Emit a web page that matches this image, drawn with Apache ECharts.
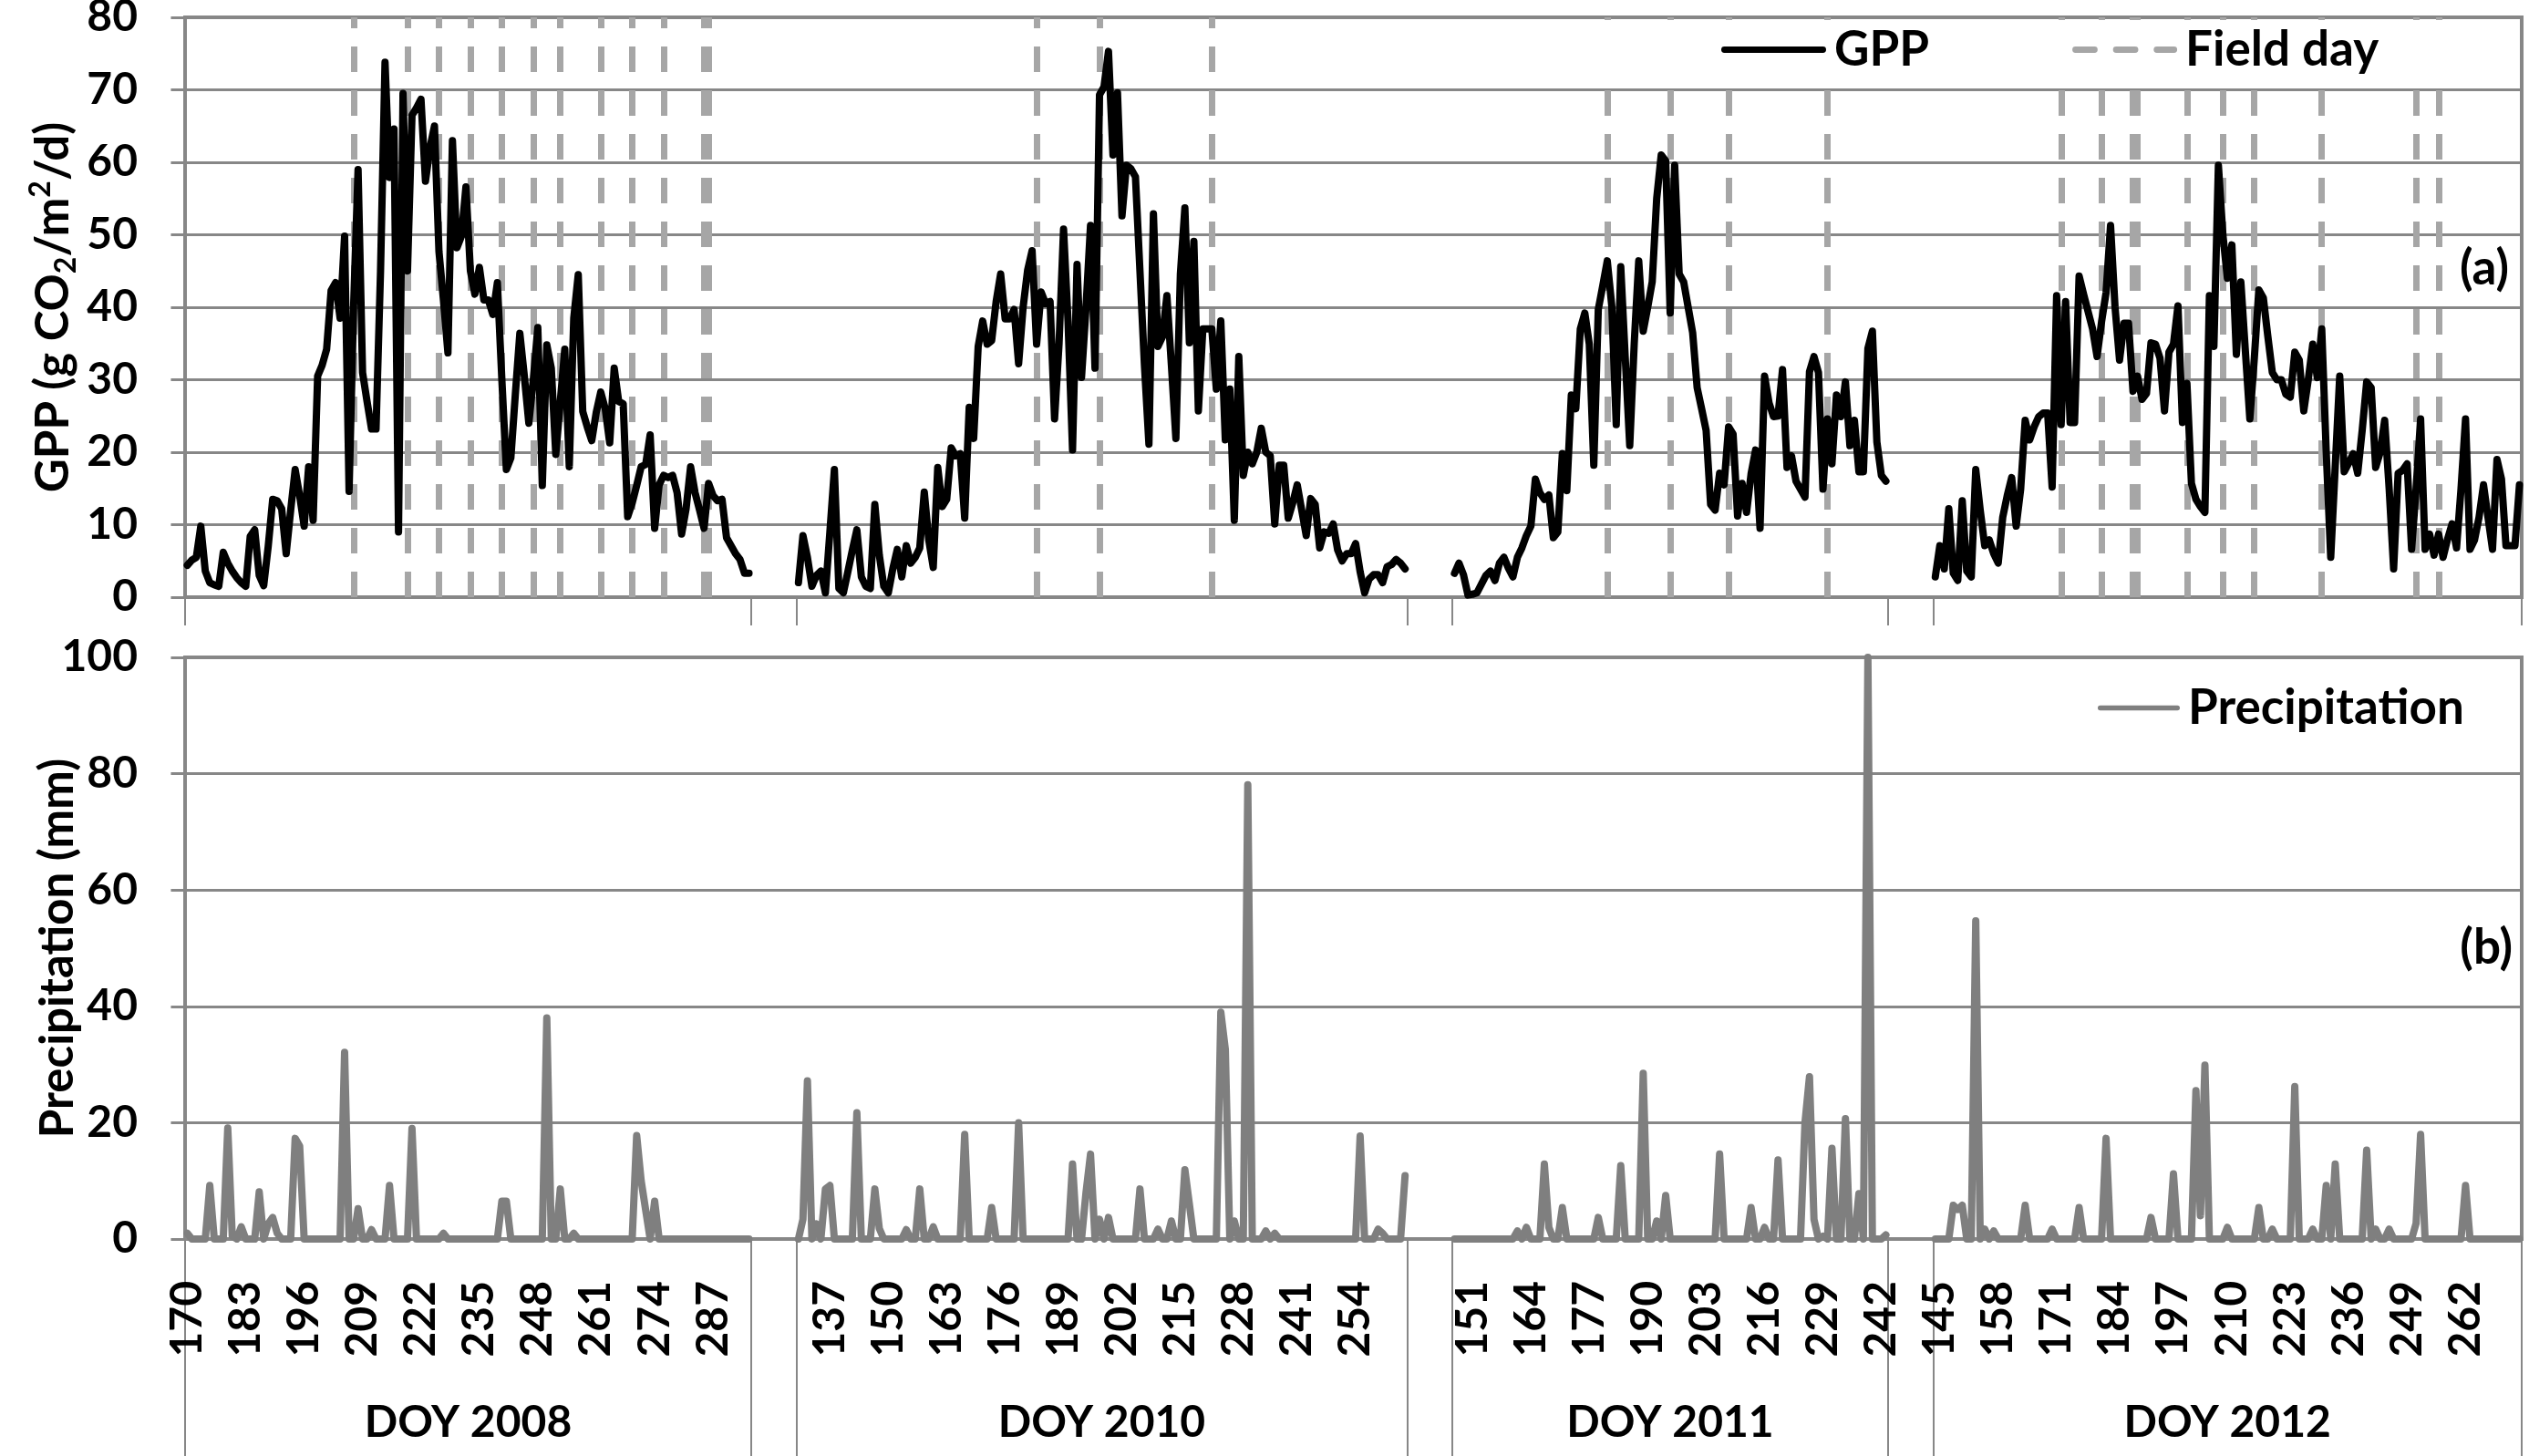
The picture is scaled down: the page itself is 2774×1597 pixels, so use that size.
<!DOCTYPE html>
<html>
<head>
<meta charset="utf-8">
<script src="https://cdn.jsdelivr.net/npm/echarts@6/dist/echarts.min.js"></script>
<style>
html, body { margin: 0; padding: 0; background: #fff; }
#chart { width: 2774px; height: 1597px; }
</style>
</head>
<body>
<div id="chart"></div>
<script>
const years = ['2008', '2010', '2011', '2012'];
const firstDoy = [170, 130, 147, 144];
const gapDays = 10;

// GPP (g CO2/m2/d), one value per day
const gpp2008 = [
  4.4, 5.1, 5.5, 9.8, 3.6, 2.0, 1.7, 1.5, 6.2, 4.7,
  3.6, 2.7, 2.0, 1.5, 8.4, 9.3, 3.0, 1.6, 7.0, 13.5,
  13.3, 12.2, 6.0, 12.0, 17.6, 14.0, 9.8, 18.0, 10.6, 30.5,
  32.0, 34.2, 42.3, 43.4, 38.5, 49.8, 14.6, 40.0, 59.0, 31.0,
  27.0, 23.2, 23.2, 45.0, 73.8, 57.9, 64.6, 9.0, 69.5, 45.0,
  66.5, 67.5, 68.7, 57.4, 62.0, 65.0, 47.7, 41.0, 33.7, 63.0,
  48.2, 49.8, 56.6, 45.0, 41.8, 45.5, 41.0, 41.0, 39.0, 43.4,
  30.0, 17.6, 19.2, 28.0, 36.4, 30.5, 24.0, 30.0, 37.2, 15.4,
  34.8, 31.6, 19.7, 27.0, 34.2, 18.0, 38.5, 44.5, 25.6, 23.5,
  21.6, 25.5, 28.3, 26.0, 21.3, 31.6, 27.0, 26.7, 11.1, 13.0,
  15.4, 18.0, 18.3, 22.4, 9.5, 15.5, 16.8, 16.5, 16.8, 14.4,
  8.7, 12.2, 18.0, 14.4, 12.0, 9.5, 15.7, 14.0, 13.3, 13.5,
  8.2, 7.1, 6.0, 5.2, 3.3, 3.3
];
const gpp2010 = [
  2.0, 8.5, 5.5, 1.5, 3.0, 3.6, 0.6, 9.0, 17.6, 1.2,
  0.6, 3.5, 6.5, 9.3, 2.8, 1.5, 1.2, 12.8, 5.8, 1.5,
  0.6, 3.9, 6.6, 2.8, 7.1, 4.7, 5.5, 6.8, 14.5, 7.9,
  4.1, 17.9, 12.5, 13.5, 20.6, 19.5, 19.8, 10.9, 26.2, 21.9,
  34.6, 38.1, 34.9, 35.4, 40.8, 44.6, 38.4, 38.4, 39.7, 32.2,
  40.0, 45.1, 47.8, 34.9, 42.1, 40.5, 40.8, 24.6, 35.0, 50.8,
  38.0, 20.3, 45.9, 30.3, 40.0, 51.3, 31.6, 69.3, 70.4, 75.3,
  61.0, 69.6, 52.6, 59.6, 59.1, 58.0, 45.0, 32.0, 21.1, 52.9,
  34.6, 35.9, 41.6, 32.0, 21.9, 44.6, 53.7, 35.1, 49.1, 25.7,
  37.0, 37.0, 37.0, 28.7, 38.1, 21.7, 28.7, 10.6, 33.2, 16.8,
  20.0, 18.4, 20.0, 23.3, 20.0, 19.5, 10.1, 18.2, 18.2, 10.9,
  13.0, 15.5, 12.0, 8.5, 13.6, 12.8, 6.8, 9.0, 8.8, 10.1,
  6.5, 5.0, 6.0, 6.0, 7.4, 3.5, 0.6, 2.5, 3.1, 3.1,
  2.0, 4.2, 4.5, 5.2, 4.7, 3.9
];
const gpp2011 = [
  3.3, 4.7, 3.1, 0.3, 0.4, 0.6, 1.8, 3.0, 3.6, 2.3,
  4.7, 5.5, 4.0, 2.8, 5.5, 6.8, 8.5, 9.8, 16.3, 14.4,
  13.5, 14.1, 8.2, 9.0, 19.8, 14.7, 27.9, 26.0, 37.0, 39.2,
  34.9, 18.2, 39.7, 43.0, 46.4, 40.2, 23.8, 45.6, 33.0, 20.9,
  35.0, 46.4, 36.7, 40.0, 43.5, 55.0, 61.0, 60.2, 39.2, 59.6,
  44.6, 43.5, 40.0, 36.5, 28.9, 26.0, 23.0, 12.8, 12.0, 17.1,
  15.5, 23.5, 22.5, 11.2, 15.7, 11.7, 17.0, 20.3, 9.5, 30.5,
  26.8, 24.9, 25.0, 31.4, 17.9, 19.5, 16.0, 14.9, 13.8, 31.1,
  33.2, 31.0, 14.9, 24.6, 18.4, 27.9, 24.9, 29.7, 20.9, 24.4,
  17.3, 17.3, 34.3, 36.7, 21.4, 16.8, 16.0
];
const gpp2012 = [
  2.8, 7.1, 3.9, 12.2, 3.3, 2.3, 13.3, 3.6, 2.8, 17.6,
  12.0, 7.1, 7.9, 6.0, 4.7, 11.0, 14.0, 16.5, 9.8, 14.9,
  24.4, 21.7, 23.5, 24.9, 25.4, 25.4, 15.2, 41.6, 23.8, 40.8,
  24.1, 24.1, 44.3, 41.8, 39.4, 37.0, 33.2, 38.0, 42.0, 51.3,
  40.0, 32.7, 37.8, 37.8, 28.4, 30.5, 27.3, 28.1, 35.1, 34.9,
  33.0, 25.7, 33.8, 34.9, 40.2, 24.1, 29.5, 15.7, 13.5, 12.5,
  11.7, 41.6, 34.6, 59.6, 50.0, 44.0, 48.6, 33.5, 43.5, 34.0,
  24.6, 33.0, 42.4, 41.3, 36.0, 31.0, 30.0, 30.0, 28.0, 27.6,
  33.8, 32.7, 25.7, 30.0, 34.9, 30.3, 37.0, 20.0, 5.5, 18.0,
  30.5, 17.3, 18.5, 19.8, 17.1, 23.0, 29.7, 28.9, 17.9, 20.0,
  24.4, 15.0, 3.9, 17.1, 17.5, 18.4, 6.6, 15.0, 24.6, 6.6,
  8.7, 5.8, 8.7, 5.5, 8.0, 10.1, 6.8, 15.0, 24.6, 6.6,
  7.9, 11.0, 15.5, 11.0, 6.6, 19.0, 16.3, 7.1, 7.1, 7.1,
  15.5
];

// Precipitation (mm), one value per day
const rain2008 = [
  1, 0, 0, 0, 0, 9.2, 0, 0, 0, 19.1,
  0.5, 0, 2.1, 0, 0, 0, 8.1, 0, 2.6, 3.7,
  1, 0, 0, 0, 17.3, 16, 0, 0, 0, 0,
  0, 0, 0, 0, 0, 32.1, 0, 0, 5.2, 0,
  0, 1.6, 0, 0, 0, 9.2, 0, 0, 0, 0,
  19, 0, 0, 0, 0, 0, 0, 1, 0, 0,
  0, 0, 0, 0, 0, 0, 0, 0, 0, 0,
  6.5, 6.5, 0, 0, 0, 0, 0, 0, 0, 0,
  38, 0, 0, 8.6, 0, 0, 1, 0, 0, 0,
  0, 0, 0, 0, 0, 0, 0, 0, 0, 0,
  17.8, 10, 5, 0, 6.5, 0, 0, 0, 0, 0,
  0, 0, 0, 0, 0, 0, 0, 0, 0, 0,
  0, 0, 0, 0, 0, 0
];
const rain2010 = [
  0, 3.4, 27.2, 0, 2.6, 0, 8.6, 9.2, 0, 0,
  0, 0, 0, 21.7, 0, 0, 0, 8.6, 1.8, 0,
  0, 0, 0, 0, 1.6, 0, 0, 8.6, 0, 0,
  2.1, 0, 0, 0, 0, 0, 0, 18, 0, 0,
  0, 0, 0, 5.4, 0, 0, 0, 0, 0, 20,
  0, 0, 0, 0, 0, 0, 0, 0, 0, 0,
  0, 12.9, 0, 0, 8, 14.6, 0, 3.4, 0, 3.7,
  0, 0, 0, 0, 0, 0, 8.6, 0, 0, 0,
  1.7, 0, 0, 3.1, 0, 0, 11.9, 6, 0, 0,
  0, 0, 0, 0, 39, 32.6, 0, 3.1, 0, 0,
  78.1, 0, 0, 0, 1.4, 0, 1, 0, 0, 0,
  0, 0, 0, 0, 0, 0, 0, 0, 0, 0,
  0, 0, 0, 0, 0, 17.7, 0, 0, 0, 1.7,
  1, 0, 0, 0, 0, 10.9
];
const rain2011 = [
  0, 0, 0, 0, 0, 0, 0, 0, 0, 0,
  0, 0, 0, 0, 1.4, 0, 2, 0, 0, 0,
  12.9, 2, 0, 0, 5.4, 0, 0, 0, 0, 0,
  0, 0, 3.7, 0, 0, 0, 0, 12.6, 0, 0,
  0, 0, 28.5, 0, 0, 3.1, 0, 7.5, 0, 0,
  0, 0, 0, 0, 0, 0, 0, 0, 0, 14.6,
  0, 0, 0, 0, 0, 0, 5.4, 0, 0, 2,
  0, 0, 13.6, 0, 0, 0, 0, 0, 20, 27.9,
  3.4, 0, 0.5, 0, 15.6, 0, 0, 20.7, 0, 0,
  7.8, 0, 100, 0, 0, 0, 0.7
];
const rain2012 = [
  0, 0, 0, 0, 5.8, 5.1, 5.8, 0, 0, 54.7,
  0, 1.7, 0, 1.4, 0, 0, 0, 0, 0, 0,
  5.8, 0, 0, 0, 0, 0, 1.7, 0, 0, 0,
  0, 0, 5.4, 0, 0, 0, 0, 0, 17.3, 0,
  0, 0, 0, 0, 0, 0, 0, 0, 3.7, 0,
  0, 0, 0, 11.2, 0, 0, 0, 0, 25.5, 4,
  29.9, 0, 0, 0, 0, 2, 0, 0, 0, 0,
  0, 0, 5.4, 0, 0, 1.7, 0, 0, 0, 0,
  26.2, 0, 0, 0, 1.7, 0, 0, 9.2, 0, 12.9,
  0, 0, 0, 0, 0, 0, 15.3, 0, 1.7, 0,
  0, 1.7, 0, 0, 0, 0, 0, 2.7, 18, 0,
  0, 0, 0, 0, 0, 0, 0, 0, 9.2, 0,
  0, 0, 0, 0, 0, 0, 0, 0, 0, 0,
  0
];

// field days (DOY)
const field2008 = [207, 219, 226, 233, 240, 247, 253, 262, 269, 276, 285, 286];
const field2010 = [183, 197, 222];
const field2011 = [181, 195, 208, 230];
const field2012 = [172, 181, 188, 189, 200, 208, 215, 230, 251, 256];

const gppByYear = [gpp2008, gpp2010, gpp2011, gpp2012];
const rainByYear = [rain2008, rain2010, rain2011, rain2012];
const fieldByYear = [field2008, field2010, field2011, field2012];

// build one long category axis, with empty days between the seasons
const categories = [];
const gppData = [];
const rainData = [];
const groupEdges = [-0.5];
const groupCenters = [];
years.forEach((year, y) => {
  if (y > 0) {
    for (let j = 0; j < gapDays; j++) {
      categories.push('gap' + y + '-' + j);
      gppData.push(null);
      rainData.push(null);
    }
    groupEdges.push(categories.length - 0.5);
  }
  const start = categories.length;
  gppByYear[y].forEach((v, k) => {
    categories.push(year + '-' + (firstDoy[y] + k));
    gppData.push(v);
    rainData.push(rainByYear[y][k]);
  });
  groupCenters.push((start + categories.length - 1) / 2);
  groupEdges.push(categories.length - 0.5);
});
const fieldLines = [];
fieldByYear.forEach((days, y) => {
  days.forEach(d => fieldLines.push({ xAxis: years[y] + '-' + d }));
});

const font = 'Lato';
const grey = '#878787';
const dashGrey = '#a6a6a6';
const txt = { fontFamily: font, fontWeight: 'bold', fontSize: 48, color: '#000' };
const legendTxt = Object.assign({}, txt, { fontSize: 53, padding: [0, 0, 0, 4] });
const nameTxt = Object.assign({}, txt, { fontSize: 51 });
// legend icons: a thick bar, and three dashes
const barIcon = 'path://M3,0H112A3.5,3.5,0,0,1,112,7H3A3.5,3.5,0,0,1,3,0Z';
const dashIcon = 'path://M3,0H24A3.5,3.5,0,0,1,24,7H3A3.5,3.5,0,0,1,3,0Z' +
  'M48,0H69A3.5,3.5,0,0,1,69,7H48A3.5,3.5,0,0,1,48,0Z' +
  'M93,0H112A3.5,3.5,0,0,1,112,7H93A3.5,3.5,0,0,1,93,0Z';

const chart = echarts.init(document.getElementById('chart'));
chart.setOption({
  animation: false,
  textStyle: { fontFamily: font },
  title: [
    { text: '(a)', right: 22, top: 268, padding: 0, textStyle: Object.assign({}, txt, { fontSize: 53 }) },
    { text: '(b)', right: 18, top: 1013, padding: 0, textStyle: Object.assign({}, txt, { fontSize: 53 }) }
  ],
  legend: [
    {
      data: [{ name: 'GPP', icon: barIcon }, { name: 'Field day', icon: dashIcon }],
      orient: 'horizontal',
      left: 1727, top: 22, z: 20,
      padding: [6, 80, 6, 161],
      itemWidth: 115, itemHeight: 7, itemGap: 157,
      backgroundColor: '#fff',
      selectedMode: false,
      textStyle: legendTxt
    },
    {
      data: [{ name: 'Precipitation', icon: barIcon }],
      left: 2301, top: 750, z: 20,
      padding: 0,
      itemWidth: 90, itemHeight: 7,
      selectedMode: false,
      textStyle: legendTxt
    }
  ],
  grid: [
    { left: 203, right: 8, top: 19, height: 636, show: true, borderColor: grey, borderWidth: 4, outerBoundsMode: 'none' },
    { left: 203, right: 8, top: 721, height: 638, show: true, borderColor: grey, borderWidth: 4, outerBoundsMode: 'none' }
  ],
  xAxis: [
    {
      type: 'category', gridIndex: 0, position: 'bottom', data: categories, boundaryGap: true,
      axisLine: { show: false }, axisTick: { show: false }, axisLabel: { show: false }, splitLine: { show: false }
    },
    {
      type: 'category', gridIndex: 1, position: 'bottom', data: categories, boundaryGap: true,
      axisLine: { show: false }, axisTick: { show: false }, splitLine: { show: false },
      axisLabel: Object.assign({}, txt, {
        interval: 12, rotate: 90, margin: 46, hideOverlap: false,
        formatter: v => v.indexOf('gap') === 0 ? '' : v.split('-')[1]
      })
    },
    {
      type: 'value', gridIndex: 0, position: 'bottom', min: -0.5, max: categories.length - 0.5,
      axisLine: { show: false }, splitLine: { show: false }, axisLabel: { show: false },
      axisTick: { show: true, customValues: groupEdges, length: 31, lineStyle: { color: grey, width: 2 } }
    },
    {
      type: 'value', gridIndex: 1, position: 'bottom', min: -0.5, max: categories.length - 0.5,
      axisLine: { show: false }, splitLine: { show: false },
      axisTick: { show: true, customValues: groupEdges, length: 238, lineStyle: { color: grey, width: 2 } },
      axisLabel: Object.assign({}, txt, {
        customValues: groupCenters, margin: 178,
        formatter: v => {
          const i = groupCenters.findIndex(c => Math.abs(c - v) < 0.01);
          return i < 0 ? '' : 'DOY ' + years[i];
        }
      })
    }
  ],
  yAxis: [
    {
      type: 'value', gridIndex: 0, min: 0, max: 80, interval: 10,
      name: '{t|GPP (g CO}{sub|2}{t|/m}{sup|2}{t|/d)}',
      nameLocation: 'middle', nameGap: 114, nameMoveOverlap: false,
      nameTextStyle: Object.assign({}, nameTxt, {
        rich: {
          t: Object.assign({}, nameTxt, { lineHeight: 60 }),
          sub: Object.assign({}, nameTxt, { fontSize: 32, lineHeight: 31, verticalAlign: 'bottom' }),
          sup: Object.assign({}, nameTxt, { fontSize: 32, lineHeight: 31, verticalAlign: 'top' })
        }
      }),
      axisLine: { show: false },
      axisTick: { show: true, length: 18, lineStyle: { color: grey, width: 3 } },
      axisLabel: Object.assign({}, txt, { margin: 52 }),
      splitLine: { show: true, lineStyle: { color: grey, width: 3 } }
    },
    {
      type: 'value', gridIndex: 1, min: 0, max: 100, interval: 20,
      name: 'Precipitation (mm)',
      nameLocation: 'middle', nameGap: 114, nameMoveOverlap: false,
      nameTextStyle: nameTxt,
      axisLine: { show: false },
      axisTick: { show: true, length: 18, lineStyle: { color: grey, width: 3 } },
      axisLabel: Object.assign({}, txt, { margin: 52 }),
      splitLine: { show: true, lineStyle: { color: grey, width: 3 } }
    }
  ],
  series: [
    {
      name: 'Field day', type: 'line', xAxisIndex: 0, yAxisIndex: 0,
      data: categories.map(() => null),
      symbol: 'none', silent: true, z: 1,
      itemStyle: { color: dashGrey },
      lineStyle: { color: dashGrey, width: 7 },
      markLine: {
        silent: true, symbol: ['none', 'none'], label: { show: false }, z: 1,
        lineStyle: { color: dashGrey, width: 7, type: [28, 20] },
        emphasis: { disabled: true },
        data: fieldLines
      }
    },
    {
      name: 'GPP', type: 'line', xAxisIndex: 0, yAxisIndex: 0,
      data: gppData, symbol: 'none', connectNulls: false,
      lineStyle: { color: '#000', width: 8, join: 'round', cap: 'round' },
      itemStyle: { color: '#000' }
    },
    {
      name: 'Precipitation', type: 'line', xAxisIndex: 1, yAxisIndex: 1,
      data: rainData, symbol: 'none', connectNulls: false,
      lineStyle: { color: '#7f7f7f', width: 8, join: 'round', cap: 'round' },
      itemStyle: { color: '#7f7f7f' }
    }
  ]
});
</script>
</body>
</html>
